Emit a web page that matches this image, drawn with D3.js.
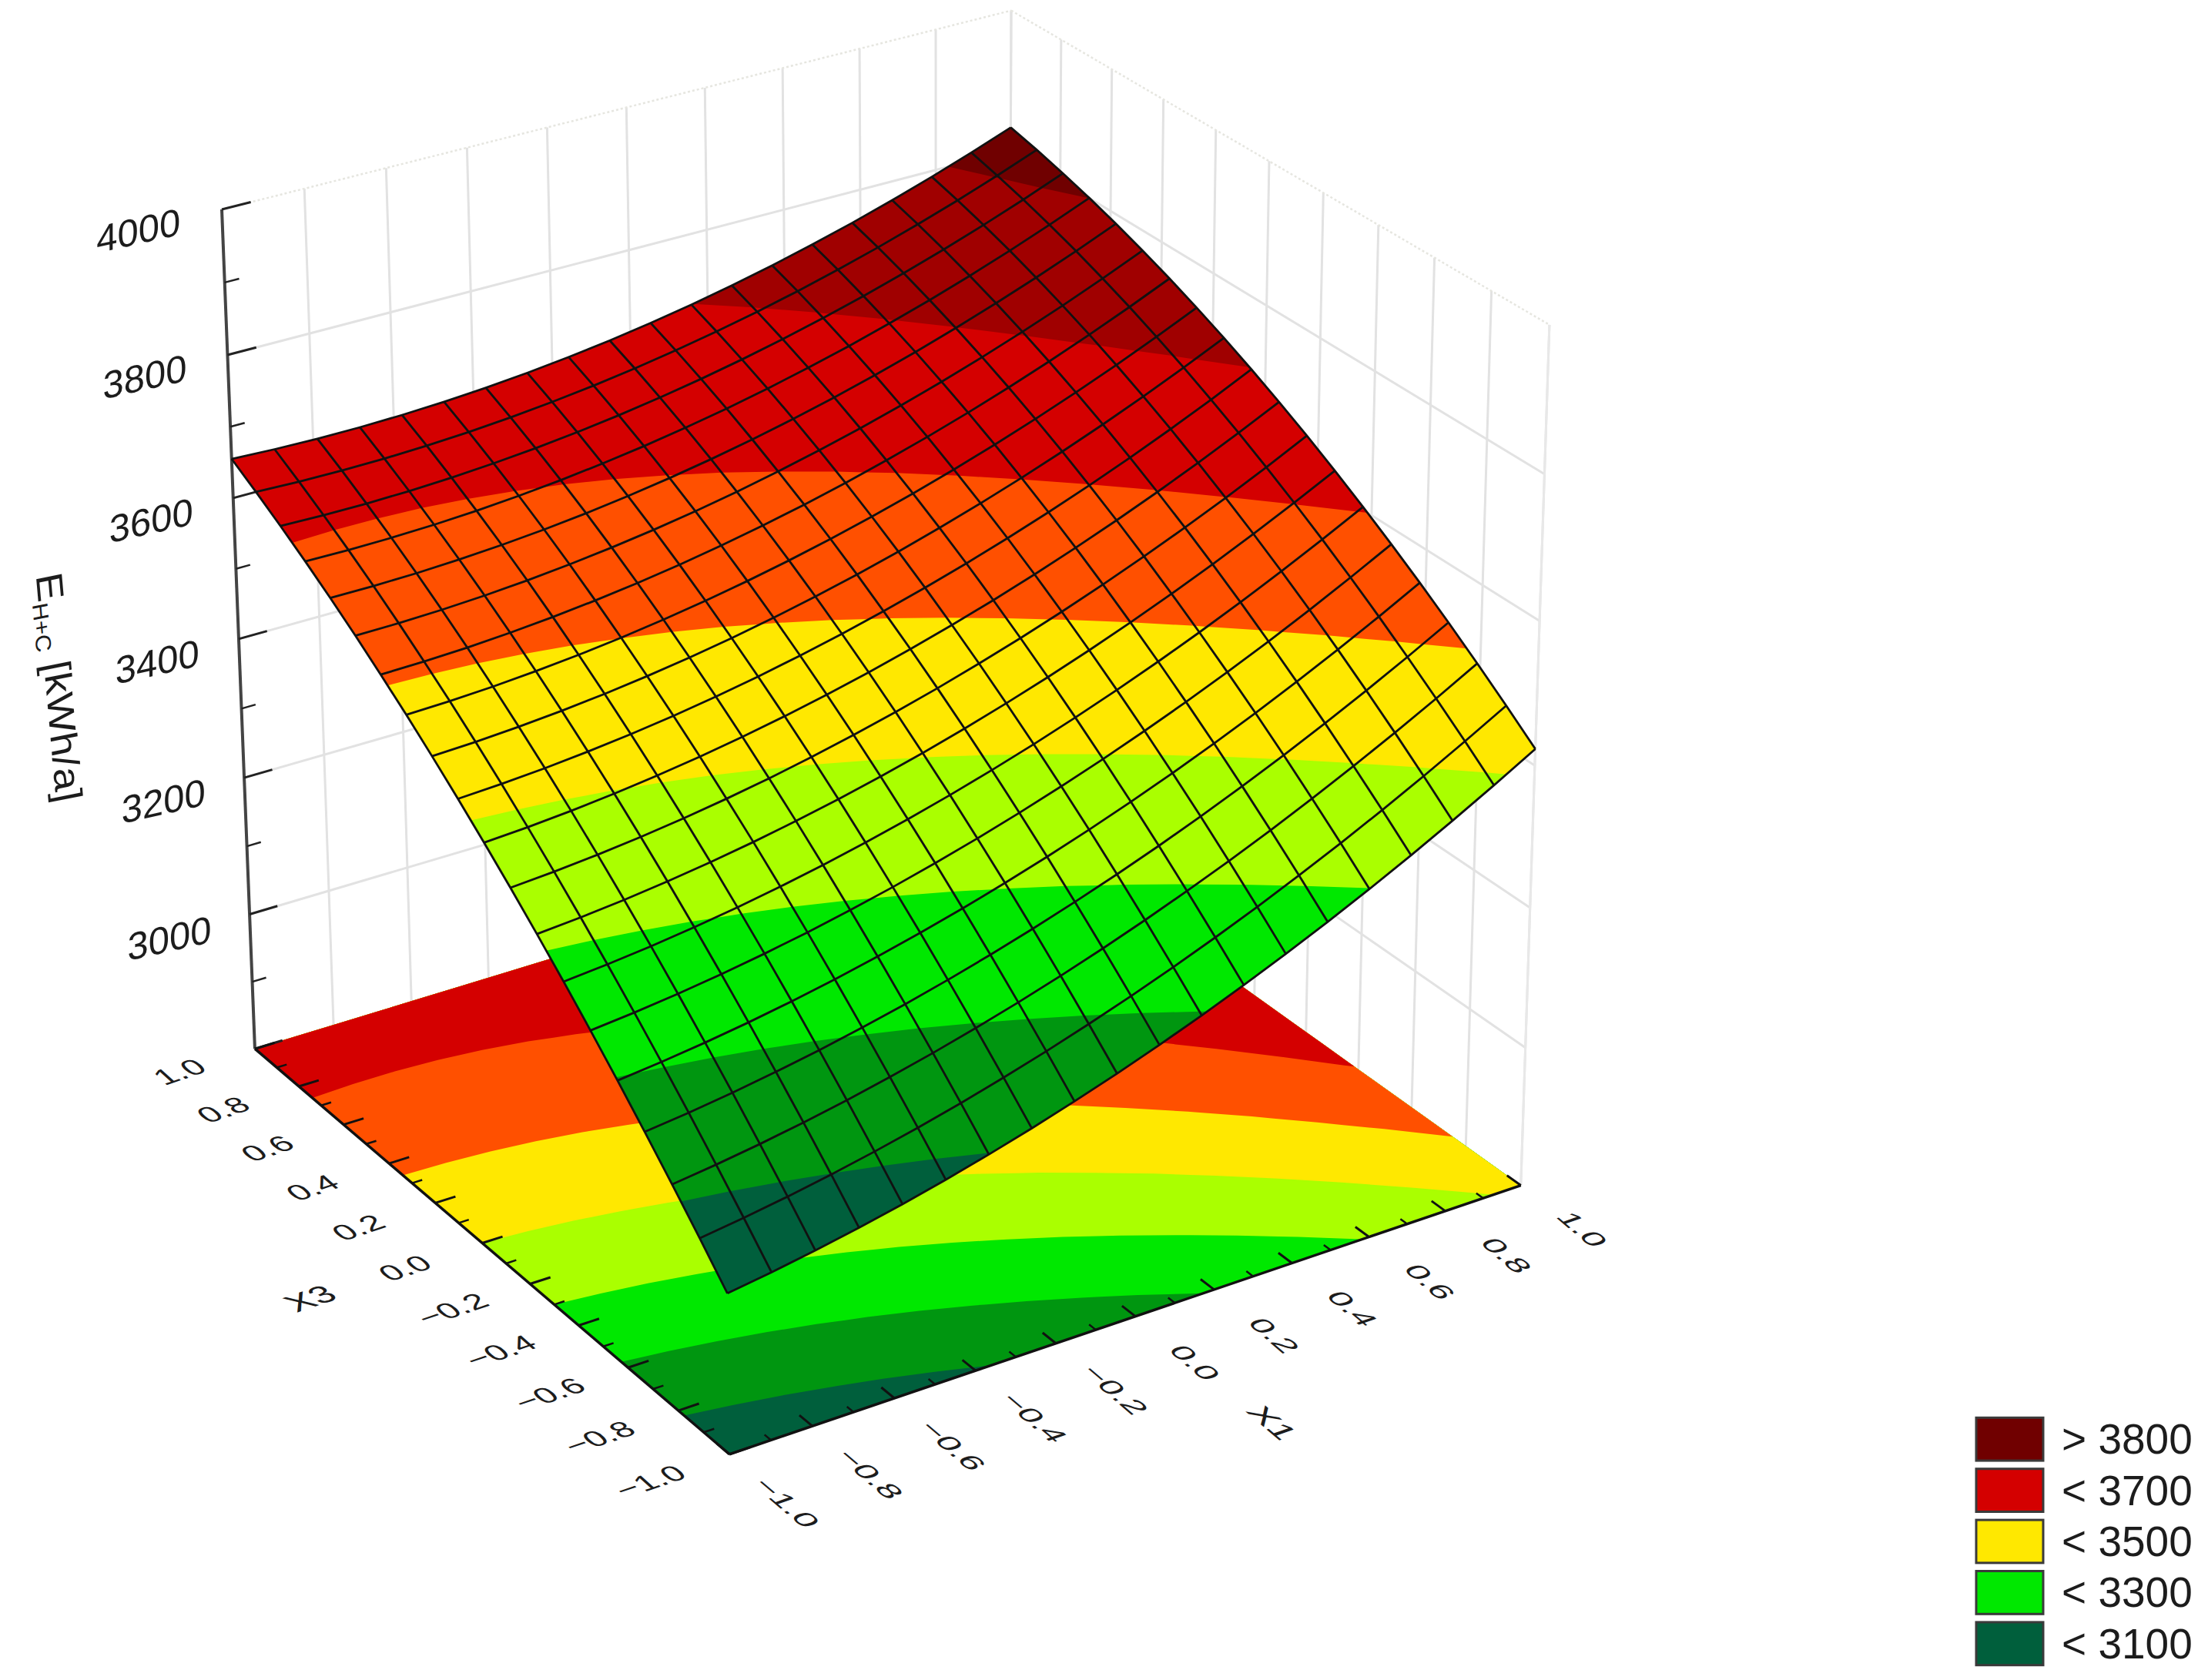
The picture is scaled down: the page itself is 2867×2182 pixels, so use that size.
<!DOCTYPE html>
<html><head><meta charset="utf-8"><script src="https://cdn.jsdelivr.net/npm/d3@7"></script>
<style>html,body{margin:0;padding:0;background:#fff}svg{display:block}text{font-family:"Liberation Sans",Arial,sans-serif;fill:#1c1c1c}</style></head>
<body><svg id="c" width="2867" height="2182"></svg>
<script>
const x1Ticks=[-1,-.8,-.6,-.4,-.2,0,.2,.4,.6,.8,1];
const x3Ticks=[-1,-.8,-.6,-.4,-.2,0,.2,.4,.6,.8,1];
const zTicks=[3000,3200,3400,3600,3800,4000];
const levels=[2000,3100,3200,3300,3400,3500,3600,3700,3800];
const bandColors=["#005f3c","#009610","#00e800","#aaff00","#ffe800","#ff5000","#d40000","#a00000","#700000"];
const legendLabels=["> 3800","< 3700","< 3500","< 3300","< 3100"];
const legendColors=["#700000","#d40000","#ffe800","#00e800","#005f3c"];
const N=20;
const zValues=[];
for(let j=0;j<N;j++){for(let i=0;i<N;i++){const a=-1+2*i/19,b=-1+2*j/19;zValues.push(3484+144*a+260*b+60*a*a-60*b*b-55*a*b);}}

const S=2867/1568;
const P=(x,y)=>[x*S,y*S];
const B=P(518,1033),R=P(1080,842),K=P(716,582),L=P(181,745),TL=P(158,147),TK=P(717,8),TR=P(1101,232);
const dx1=R[0]-K[0],dx2=L[0]-K[0],sx=B[0]-R[0]+K[0]-L[0],dy1=R[1]-K[1],dy2=L[1]-K[1],sy=B[1]-R[1]+K[1]-L[1];
const den=dx1*dy2-dx2*dy1,g=(sx*dy2-dx2*sy)/den,h=(dx1*sy-sx*dy1)/den;
const a=R[0]-B[0]+g*R[0],b=L[0]-B[0]+h*L[0],c=B[0],d=R[1]-B[1]+g*R[1],e=L[1]-B[1]+h*L[1],f=B[1];
const tops=[[TL,0,1],[TK,1,1],[TR,1,0]];
let Sx=0,Sy=0,Sq=0,Sa=0,Sb=0,Sm=0;
tops.forEach(([p,u,v])=>{const D=g*u+h*v+1,al=p[0]*D-(a*u+b*v+c),be=p[1]*D-(d*u+e*v+f);Sx+=p[0];Sy+=p[1];Sq+=p[0]*p[0]+p[1]*p[1];Sa+=al;Sb+=be;Sm+=p[0]*al+p[1]*be;});
const r=(-Sm+Sx*Sa/3+Sy*Sb/3)/(Sq-Sx*Sx/3-Sy*Sy/3),pp=(Sa+r*Sx)/3,qq=(Sb+r*Sy)/3;

const uS=d3.scaleLinear([-1,1],[0,1]),vS=d3.scaleLinear([-1,1],[0,1]),wS=d3.scaleLinear([2800,4000],[0,1]);
const gridS=d3.scaleLinear([0,N-1],[-1,1]);
function proj(x1,x3,z){const u=uS(x1),v=vS(x3),w=wS(z),D=g*u+h*v+1+r*w;return[(a*u+b*v+c+pp*w)/D,(d*u+e*v+f+qq*w)/D];}
const zAt=(gx,gy)=>{const i=Math.min(Math.floor(gx),N-2),j=Math.min(Math.floor(gy),N-2),t=gx-i,s=gy-j,V=(m,n)=>zValues[n*N+m];
 return V(i,j)*(1-t)*(1-s)+V(i+1,j)*t*(1-s)+V(i,j+1)*(1-t)*s+V(i+1,j+1)*t*s;};
const cl=v=>Math.max(0,Math.min(N-1,v-.5));
const svg=d3.select("#c");
const root=svg.append("g");
const line=d3.line();
const seg=(A,Bb,st,w,da)=>root.append("path").attr("d",line([A,Bb])).attr("fill","none").attr("stroke",st).attr("stroke-width",w).attr("stroke-dasharray",da||null);

// walls
const gridC="#e2e2e2",Z0=2800,Z1=4000;
x1Ticks.forEach(t=>seg(proj(t,1,Z0),proj(t,1,Z1),gridC,3));
x3Ticks.forEach(t=>seg(proj(1,t,Z0),proj(1,t,Z1),gridC,3));
zTicks.slice(0,-1).forEach(z=>{seg(proj(-1,1,z),proj(1,1,z),gridC,3);seg(proj(1,1,z),proj(1,-1,z),gridC,3);});
seg(proj(-1,1,Z1),proj(1,1,Z1),"#e6e6e0",2.5,"3 3");
seg(proj(1,1,Z1),proj(1,-1,Z1),"#e6e6e0",2.5,"3 3");
seg(proj(1,-1,Z0),proj(1,-1,Z1),"#e8e8e8",3);

// contours
const cont=d3.contours().size([N,N]).thresholds(levels)(zValues);
const ringPath=(geo,zf)=>geo.coordinates.map(poly=>poly.map(ring=>line(ring.map(([cx,cy])=>{const gx=cl(cx),gy=cl(cy);return proj(gridS(gx),gridS(gy),zf(gx,gy));}))+"Z").join("")).join("");
const floorG=root.append("g"),surfG=root.append("g");
floorG.selectAll("path").data(cont).join("path").attr("d",q=>ringPath(q,()=>Z0)).attr("fill",(q,i)=>bandColors[i]);
// axes
seg(proj(-1,1,Z1),proj(-1,1,Z0),"#444",4);
d3.range(2800,4001,100).forEach(z=>{const maj=z%200===0;seg(proj(-1,1,z),proj(maj?-.93:-.965,1,z),"#222",maj?3:2.5);});
seg(proj(-1,1,Z0),proj(-1,-1,Z0),"#111",3.5);
seg(proj(-1,-1,Z0),proj(1,-1,Z0),"#111",3.5);
d3.range(-10,11).forEach(k=>{const t=k/10,maj=k%2===0;
 seg(proj(-1,t,Z0),proj(maj?-.95:-.975,t,Z0),"#111",maj?3:2.5);
 seg(proj(t,-1,Z0),proj(t,maj?-.95:-.975,Z0),"#111",maj?3:2.5);});

// surface
surfG.raise();
surfG.selectAll("path").data(cont).join("path").attr("d",q=>ringPath(q,zAt)).attr("fill",(q,i)=>bandColors[i]).attr("stroke",(q,i)=>i==0?"none":"none");
const idx=d3.range(N);
const mesh=surfG.append("g").attr("fill","none").attr("stroke","#111").attr("stroke-width",2.8).attr("stroke-linejoin","round");
idx.forEach(j=>mesh.append("path").attr("d",line(idx.map(i=>proj(gridS(i),gridS(j),zValues[j*N+i])))));
idx.forEach(i=>mesh.append("path").attr("d",line(idx.map(j=>proj(gridS(i),gridS(j),zValues[j*N+i])))));

// labels
const fmt=d3.format(".1f");
function label(pt,txt,base,down,size){
 root.append("text").attr("transform",`matrix(${base[0]} ${base[1]} ${down[0]} ${down[1]} ${pt[0]} ${pt[1]})`).attr("text-anchor","middle").attr("dy",".35em").attr("font-size",size).text(txt);}
const bX3=[.95,-.32],dX3=[.62,.55],bX1=[.80,.68],dX1=[-.75,.26];
x3Ticks.forEach(t=>label(proj(-1.19,t,Z0),fmt(t),bX3,dX3,44));
x1Ticks.forEach(t=>label(proj(t,-1.22,Z0),fmt(t),bX1,dX1,44));
label(proj(-1.42,0,Z0),"X3",bX3,dX3,48);
label(proj(0,-1.5,Z0),"X1",bX1,dX1,48);
zTicks.forEach(z=>label(proj(-1.2,1,z),z,[.98,-.22],[0,1],50));
const yT=root.append("text").attr("transform",`matrix(.10 1.12 -1 .2 60 896)`).attr("text-anchor","middle").attr("font-size",48);
yT.append("tspan").text("E");yT.append("tspan").attr("font-size",28).attr("dy",8).text("H+C");yT.append("tspan").attr("dy",-8).text(" [kWh/a]");

// legend
const ly=d3.scaleBand().domain(legendLabels).range([1836,2168]).paddingInner(.16).paddingOuter(.08);
legendLabels.forEach((t,i)=>{root.append("rect").attr("x",2566).attr("y",ly(t)).attr("width",87).attr("height",ly.bandwidth()).attr("fill",legendColors[i]).attr("stroke","#3a3a3a").attr("stroke-width",3);
 root.append("text").attr("x",2677).attr("y",ly(t)+ly.bandwidth()/2+19).attr("font-size",55).text(t);});
</script></body></html>
